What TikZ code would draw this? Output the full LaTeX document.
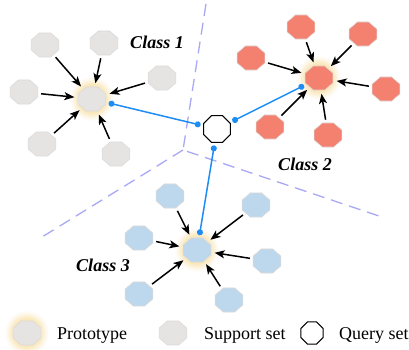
\documentclass[tikz,border=0pt]{standalone}
\usepackage{fontspec}
\setmainfont{Liberation Serif}
\usetikzlibrary{shapes.geometric,arrows.meta}

\definecolor{supgray}{HTML}{E6E3E3}
\definecolor{supred}{HTML}{F4806F}
\definecolor{supblue}{HTML}{BDD8EC}
\definecolor{octline}{HTML}{DDDADA}
\definecolor{linkblue}{HTML}{1E8CF5}
\definecolor{divcolor}{HTML}{A8A8F4}
\definecolor{glowc}{HTML}{F8E0A4}

\begin{document}
\begin{tikzpicture}[x=1pt,y=-1pt,
  oct/.style={regular polygon, regular polygon sides=8, minimum size=26pt,
    inner sep=0pt, xscale=1.15, transform shape, draw=octline, line width=0.6pt},
  grayoct/.style={oct, fill=supgray},
  redoct/.style={oct, fill=supred},
  blueoct/.style={oct, fill=supblue},
  queryoct/.style={regular polygon, regular polygon sides=8, minimum size=29pt,
    inner sep=0pt, draw=black, line width=1.1pt, fill=white},
  feed/.style={-{Stealth[length=10pt,width=8pt,inset=2.5pt]}, line width=1.5pt,
    shorten >=3.5pt, shorten <=3pt},
  link/.style={draw=linkblue, line width=1.5pt,
    {Circle[length=6pt]}-{Circle[length=6pt]}, shorten <=2.5pt, shorten >=2.5pt},
  divider/.style={draw=divcolor, line width=1.3pt, dash pattern=on 12pt off 7pt},
  classlbl/.style={font=\fontsize{18}{20}\selectfont\bfseries\itshape},
  legtext/.style={font=\fontsize{18}{20}\selectfont, anchor=base west, inner sep=0pt}
]
\useasboundingbox (0,0) rectangle (409,349);

% decision boundaries between the classes
\coordinate (jn) at (183,150);
\coordinate (dtop) at (206,4);
\coordinate (dright) at (379,216);
\coordinate (dleft) at (42,237);
\draw[divider] (dtop) -- (jn) -- (dright);
\draw[divider] (jn) -- (dleft);

% prototype centres and their soft halos (rings of rising tint)
\coordinate (c1) at (92,99);
\coordinate (c2) at (319,78);
\coordinate (c3) at (197,250);
\coordinate (cl) at (27,333);
\foreach \c in {c1,c2,c3,cl}
  \foreach \r/\t in {22/6,21/12,20/20,19/28,18/38,17/48,16/58,15/68,14/78}
    \fill[glowc!\t!white] (\c) circle [radius=\r pt];

% class 1
\node[grayoct] (p1) at (c1) {};
\node[grayoct] (s11) at (45,45) {};
\node[grayoct] (s12) at (104,43) {};
\node[grayoct] (s13) at (162,78) {};
\node[grayoct] (s14) at (24,92) {};
\node[grayoct] (s15) at (42,144) {};
\node[grayoct] (s16) at (116,154) {};

% class 2
\node[redoct] (p2) at (c2) {};
\node[redoct] (s21) at (301,27) {};
\node[redoct] (s22) at (363,34) {};
\node[redoct] (s23) at (251,58) {};
\node[redoct] (s24) at (386,89) {};
\node[redoct] (s25) at (270,127) {};
\node[redoct] (s26) at (328,135) {};

% class 3
\node[blueoct] (p3) at (c3) {};
\node[blueoct] (s31) at (170,196) {};
\node[blueoct] (s32) at (139,238) {};
\node[blueoct] (s33) at (139,294) {};
\node[blueoct] (s34) at (256,205) {};
\node[blueoct] (s35) at (267,261) {};
\node[blueoct] (s36) at (229,300) {};

% query sample
\node[queryoct] (q) at (217,129) {};

% support samples pulled toward their prototype
\foreach \i in {1,...,6} {
  \draw[feed] (s1\i) -- (p1);
  \draw[feed] (s2\i) -- (p2);
  \draw[feed] (s3\i) -- (p3);
}

% distances from the query to each prototype
\draw[link] (p1) -- (q);
\draw[link] (q) -- (p2);
\draw[link] (q) -- (p3);

% class names
\node[classlbl] (l1) at (157,42) {Class 1};
\node[classlbl] (l2) at (305,164) {Class 2};
\node[classlbl] (l3) at (103,265) {Class 3};

% legend
\node[grayoct] (kp) at (cl) {};
\node[legtext] (kpt) at (57,339) {Prototype};
\node[grayoct] (ks) at (173,333) {};
\node[legtext] (kst) at (204,339) {Support set};
\node[queryoct, minimum size=24pt] (kq) at (312,333) {};
\node[legtext] (kqt) at (339,339) {Query set};
\end{tikzpicture}
\end{document}
